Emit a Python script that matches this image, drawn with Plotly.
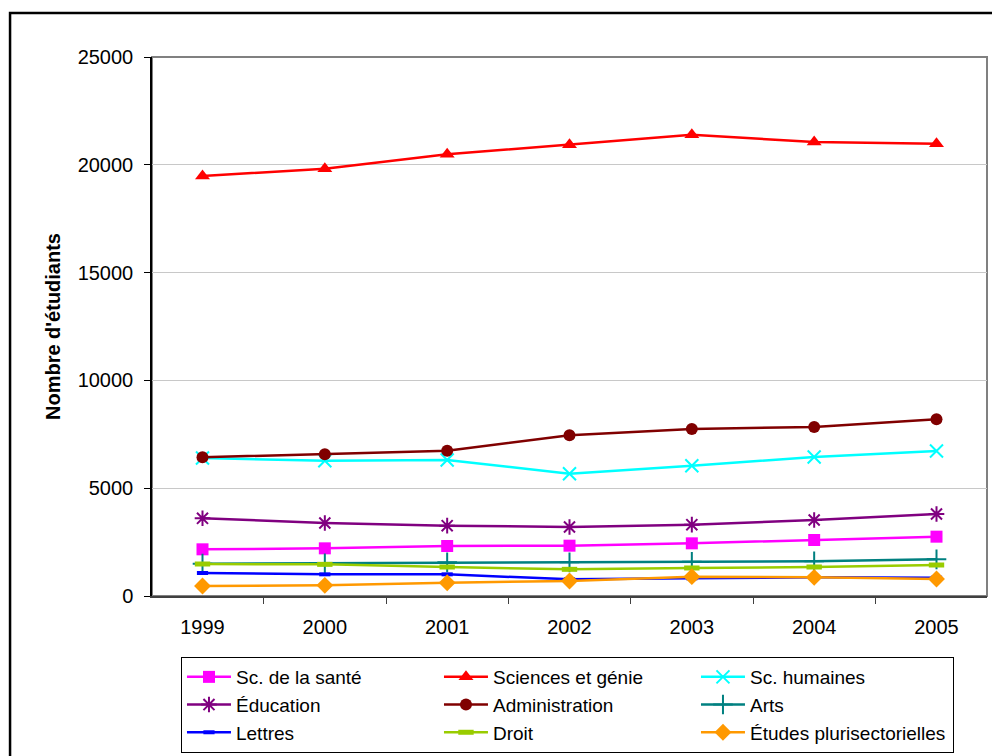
import plotly.graph_objects as go

years = ["1999", "2000", "2001", "2002", "2003", "2004", "2005"]

sante = [2165, 2211, 2319, 2334, 2443, 2597, 2752]
sciences_genie = [19480, 19820, 20487, 20933, 21397, 21057, 20979]
humaines = [6400, 6276, 6308, 5673, 6045, 6447, 6725]
education = [3603, 3386, 3262, 3200, 3309, 3525, 3803]
administration = [6433, 6572, 6740, 7453, 7746, 7839, 8194]
arts = [1500, 1515, 1561, 1561, 1592, 1608, 1700]
lettres = [1067, 1005, 1005, 773, 820, 866, 850]
droit = [1484, 1468, 1345, 1237, 1299, 1345, 1438]
etudes_pluri = [464, 495, 618, 696, 897, 866, 789]

y_ticks = [0, 5000, 10000, 15000, 20000, 25000]
y_tick_labels = ["0", "5000", "10000", "15000", "20000", "25000"]

series = [
    ("Sc. de la santé", sante, "#FF00FF", dict(symbol="square", size=12)),
    ("Sciences et génie", sciences_genie, "#FF0000", dict(symbol="triangle-up", size=13)),
    ("Sc. humaines", humaines, "#00FFFF", dict(symbol="x-thin-open", size=13, line=dict(width=2, color="#00FFFF"))),
    ("Éducation", education, "#800080", dict(symbol="asterisk-open", size=13, line=dict(width=2, color="#800080"))),
    ("Administration", administration, "#800000", dict(symbol="circle", size=12)),
    ("Arts", arts, "#008080", dict(symbol="cross-thin-open", size=14, line=dict(width=2, color="#008080"))),
    ("Lettres", lettres, "#0000FF", dict(symbol="line-ew-open", size=8, line=dict(width=4, color="#0000FF"))),
    ("Droit", droit, "#99CC00", dict(symbol="line-ew-open", size=11, line=dict(width=5, color="#99CC00"))),
    ("Études plurisectorielles", etudes_pluri, "#FF9900", dict(symbol="diamond", size=13)),
]

fig = go.Figure()
for name, vals, color, marker in series:
    m = dict(color=color)
    m.update(marker)
    fig.add_trace(go.Scatter(
        x=years, y=vals, name=name, mode="lines+markers",
        line=dict(color=color, width=2.5), marker=m,
    ))

font_family = "Liberation Sans, Arial, sans-serif"

fig.update_layout(
    width=992, height=748,
    margin=dict(l=144, r=13, t=49, b=160, autoexpand=False),
    paper_bgcolor="white", plot_bgcolor="white",
    font=dict(family=font_family, size=20, color="black"),
    showlegend=True,
    legend=dict(
        orientation="h", x=0.0347, y=-0.1132, xanchor="left", yanchor="top",
        bordercolor="black", borderwidth=1, bgcolor="white",
        entrywidth=198, entrywidthmode="pixels", itemwidth=44,
        font=dict(size=19, family=font_family),
        traceorder="normal",
    ),
    xaxis=dict(
        type="category", tickson="boundaries", ticks="outside", ticklen=6,
        tickcolor="#404040", showline=True, linecolor="#404040", linewidth=2,
        showgrid=False, tickfont=dict(size=20), zeroline=False,
        ticklabelstandoff=12, automargin=False,
    ),
    yaxis=dict(
        range=[0, 25000], tickvals=y_ticks, ticktext=y_tick_labels,
        ticks="outside", ticklen=6,
        tickcolor="black", showline=True, linecolor="black", linewidth=1.5,
        showgrid=True, gridcolor="#C8C8C8", gridwidth=1, zeroline=False,
        tickfont=dict(size=20), ticklabelstandoff=7, automargin=False,
        title=dict(text="<b>Nombre d'étudiants</b>", font=dict(size=20), standoff=12),
    ),
    shapes=[
        dict(type="rect", xref="paper", yref="paper", x0=0, y0=0, x1=1, y1=1,
             line=dict(color="#808080", width=2), layer="below"),
        dict(type="rect", xref="paper", yref="paper", x0=-0.170, y0=-0.6, x1=1.2, y1=1.0816,
             line=dict(color="black", width=2.5), layer="below"),
    ],
)

fig.write_html("out.html")
